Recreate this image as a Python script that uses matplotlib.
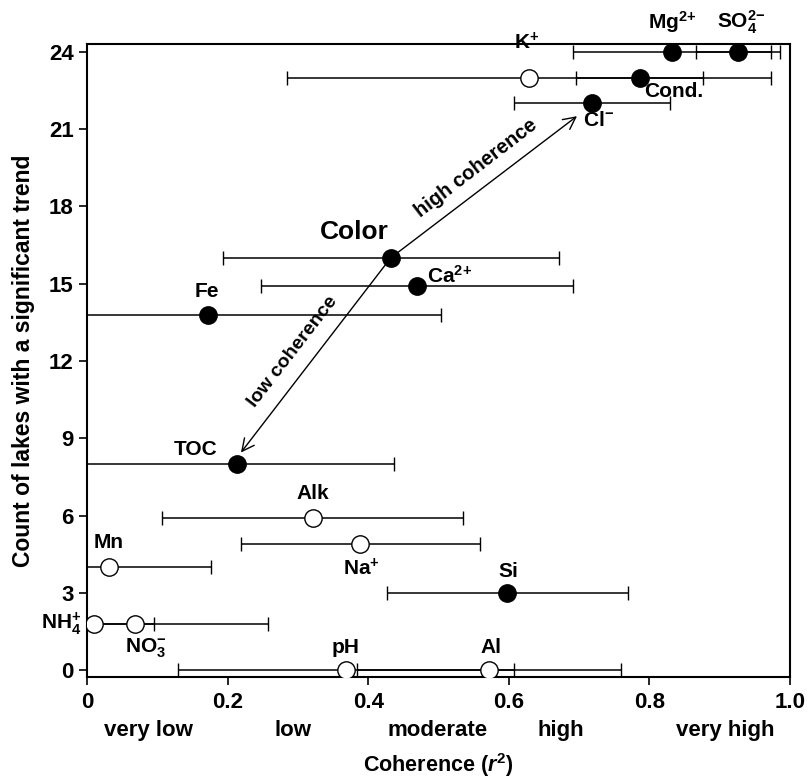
import matplotlib

matplotlib.use("Agg")

import matplotlib.pyplot as plt  # noqa: E402

plt.rcParams["font.family"] = ["Liberation Sans", "DejaVu Sans"]
plt.rcParams["font.weight"] = "bold"
plt.rcParams["mathtext.fontset"] = "custom"
plt.rcParams["mathtext.rm"] = "Liberation Sans:bold"
plt.rcParams["mathtext.bf"] = "Liberation Sans:bold"
plt.rcParams["mathtext.it"] = "Liberation Sans:italic:bold"

# variables, coherence (r2), spread of r2, count of lakes with a trend
names = ["Mg", "SO4", "K", "Cond", "Cl", "Color", "Ca", "Fe", "TOC",
         "Alk", "Mn", "Na", "Si", "NH4", "NO3", "pH", "Al"]
coherence = [0.832, 0.926, 0.629, 0.786, 0.719, 0.432, 0.470, 0.172, 0.214,
             0.321, 0.031, 0.389, 0.598, 0.010, 0.068, 0.368, 0.572]
spread = [0.141, 0.060, 0.344, 0.090, 0.111, 0.239, 0.222, 0.332, 0.222,
          0.214, 0.145, 0.170, 0.171, 0.085, 0.189, 0.239, 0.188]
count = [24, 24, 23, 23, 22, 16, 14.9, 13.8, 8,
         5.9, 4, 4.9, 3, 1.8, 1.8, 0, 0]
filled = [True, True, False, True, True, True, True, True, True,
          False, False, False, True, False, False, False, False]

labels = {
    "Mg": ("Mg$^{2{+}}$", 0.832, 25.15, "center"),
    "SO4": ("SO$_4^{2{-}}$", 0.93, 25.15, "center"),
    "K": ("K$^{+}$", 0.625, 24.35, "center"),
    "Cond": ("Cond.", 0.835, 22.45, "center"),
    "Cl": ("Cl$^{-}$", 0.728, 21.35, "center"),
    "Ca": ("Ca$^{2{+}}$", 0.483, 15.3, "left"),
    "Fe": ("Fe", 0.17, 14.7, "center"),
    "TOC": ("TOC", 0.155, 8.55, "center"),
    "Alk": ("Alk", 0.321, 6.85, "center"),
    "Mn": ("Mn", 0.031, 4.95, "center"),
    "Na": ("Na$^{+}$", 0.391, 3.95, "center"),
    "Si": ("Si", 0.6, 3.85, "center"),
    "NH4": ("NH$_4^{+}$", -0.008, 1.8, "right"),
    "NO3": ("NO$_3^{-}$", 0.084, 0.85, "center"),
    "pH": ("pH", 0.368, 0.9, "center"),
    "Al": ("Al", 0.574, 0.9, "center"),
}

classes = ["very low", "low", "moderate", "high", "very high"]
class_pos = [0.087, 0.293, 0.498, 0.674, 0.908]

fig = plt.figure(figsize=(8.09, 7.81), dpi=100)
ax = fig.add_axes([87 / 809, 104 / 781, 703 / 809, 633 / 781])

for i in range(len(names)):
    ax.errorbar(coherence[i], count[i], xerr=spread[i], fmt="o",
                color="black", ecolor="black", elinewidth=1.1,
                capsize=5, capthick=1.1, markersize=12.5,
                markeredgewidth=1.0, markeredgecolor="black",
                markerfacecolor="black" if filled[i] else "white",
                zorder=3)

for key, (txt, lx, ly, ha) in labels.items():
    ax.text(lx, ly, txt, ha=ha, va="center", fontsize=15,
            fontweight="bold", clip_on=False, zorder=4)

ax.text(0.38, 17.0, "Color", ha="center", va="center", fontsize=19,
        fontweight="bold")

# arrows from Color towards Cl- and TOC
ax.annotate("", xy=(0.697, 21.5), xytext=(0.432, 16.0),
            arrowprops=dict(arrowstyle="->", lw=1.0, mutation_scale=22,
                            shrinkA=0, shrinkB=0))
ax.annotate("", xy=(0.219, 8.45), xytext=(0.432, 16.0),
            arrowprops=dict(arrowstyle="->", lw=1.0, mutation_scale=22,
                            shrinkA=0, shrinkB=0))
ax.text(0.553, 19.5, "high coherence", rotation=37.6, ha="center",
        va="center", fontsize=14.5, fontweight="bold", rotation_mode="anchor")
ax.text(0.293, 12.35, "low coherence", rotation=52.3, ha="center",
        va="center", fontsize=14, fontweight="bold", rotation_mode="anchor")

ax.set_xlim(0, 1.0)
ax.set_ylim(-0.26, 24.3)
ax.set_yticks(range(0, 25, 3))
ax.set_xticks([0, 0.2, 0.4, 0.6, 0.8, 1.0])
ax.set_xticklabels(["0", "0.2", "0.4", "0.6", "0.8", "1.0"],
                   fontsize=16, fontweight="bold")
ax.tick_params(axis="y", labelsize=16, direction="out", length=6, width=1.2)
ax.tick_params(axis="x", direction="out", length=6, width=1.2, pad=5)
for lab in ax.get_yticklabels():
    lab.set_fontweight("bold")
for sp in ax.spines.values():
    sp.set_linewidth(1.5)

for c, p in zip(classes, class_pos):
    ax.text(p, -0.085, c, transform=ax.transAxes, ha="center", va="center",
            fontsize=16, fontweight="bold")

ax.set_xlabel("Coherence ($r^{\\mathbf{2}}$)", fontsize=15.5, fontweight="bold",
              labelpad=27)
ax.set_ylabel("Count of lakes with a significant trend", fontsize=16.5,
              fontweight="bold", labelpad=10)

fig.savefig("out.png", dpi=100)
